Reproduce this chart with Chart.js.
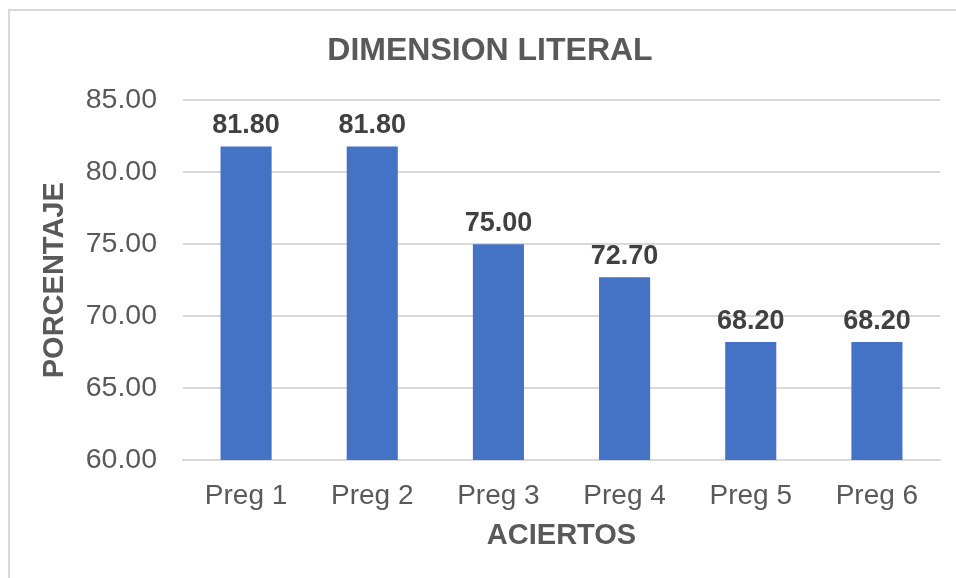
<!DOCTYPE html>
<html>
<head>
<meta charset="utf-8">
<script src="https://cdn.jsdelivr.net/npm/chart.js@4/dist/chart.umd.min.js"></script>
<style>
    html, body { margin: 0; padding: 0; background: #ffffff; }
    #wrap { width: 956px; height: 578px; position: relative; }
</style>
</head>
<body>
<div id="wrap"><canvas id="myChart" width="956" height="578"></canvas></div>
<script>
var categories = ['Preg 1', 'Preg 2', 'Preg 3', 'Preg 4', 'Preg 5', 'Preg 6'];
var aciertos = [81.8, 81.8, 75.0, 72.7, 68.2, 68.2];
var yTicks = [60, 65, 70, 75, 80, 85];

var font = "'Liberation Sans', Arial, sans-serif";
var grey = '#595959';

// white background and the light outer frame
var framePlugin = {
    id: 'frame',
    beforeDraw: function (chart) {
        var c = chart.ctx;
        c.save();
        c.fillStyle = '#ffffff';
        c.fillRect(0, 0, chart.width, chart.height);
        c.strokeStyle = '#d9d9d9';
        c.lineWidth = 2;
        c.strokeRect(9, 10, 1000, 1000);
        c.restore();
    }
};

// value labels above each bar
var labelPlugin = {
    id: 'barLabels',
    afterDatasetsDraw: function (chart) {
        var c = chart.ctx;
        var meta = chart.getDatasetMeta(0);
        c.save();
        c.font = 'bold 27px ' + font;
        c.fillStyle = '#404040';
        c.textAlign = 'center';
        c.textBaseline = 'middle';
        meta.data.forEach(function (bar, i) {
            c.fillText(aciertos[i].toFixed(2), bar.x, bar.y - 21);
        });
        c.restore();
    }
};

var ctx = document.getElementById('myChart').getContext('2d');
var myChart = new Chart(ctx, {
    type: 'bar',
    data: {
        labels: categories,
        datasets: [{
            label: 'Aciertos',
            data: aciertos,
            backgroundColor: '#4472c4',
            barPercentage: 0.405,
            categoryPercentage: 1.0
        }]
    },
    options: {
        responsive: false,
        animation: false,
        layout: { padding: { left: 40, right: 16, top: 0, bottom: 25 } },
        plugins: {
            legend: { display: false },
            tooltip: { enabled: false },
            title: {
                display: true,
                text: 'DIMENSION LITERAL',
                color: grey,
                font: { family: font, size: 32, weight: 'bold' },
                padding: { top: 32, bottom: 30 }
            }
        },
        scales: {
            x: {
                grid: { display: false, drawTicks: false },
                border: { display: true, color: '#d9d9d9', width: 2 },
                ticks: { color: grey, font: { family: font, size: 28 }, padding: 19 },
                title: {
                    display: true,
                    text: 'ACIERTOS',
                    color: grey,
                    font: { family: font, size: 29, weight: 'bold' },
                    padding: { top: 0, bottom: 0 }
                },
                afterFit: function (scale) { scale.height = 93; }
            },
            y: {
                min: 60,
                max: 85,
                afterBuildTicks: function (scale) {
                    scale.ticks = yTicks.map(function (v) { return { value: v }; });
                },
                grid: { color: '#d9d9d9', lineWidth: 2, drawTicks: false },
                border: { display: false },
                ticks: {
                    color: grey,
                    font: { family: font, size: 28.5 },
                    padding: 26,
                    callback: function (v) { return Number(v).toFixed(2); }
                },
                title: {
                    display: true,
                    text: 'PORCENTAJE',
                    color: grey,
                    font: { family: font, size: 29, weight: 'bold', lineHeight: 1 },
                    padding: { top: 0, bottom: 0 }
                },
                afterFit: function (scale) { scale.width = 143; }
            }
        }
    },
    plugins: [framePlugin, labelPlugin]
});
</script>
</body>
</html>
